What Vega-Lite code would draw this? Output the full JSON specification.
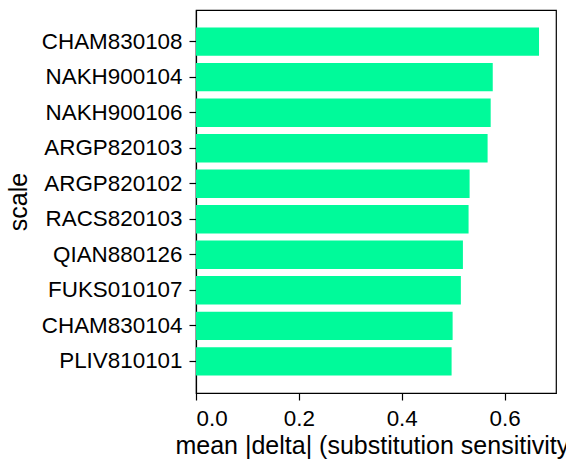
{
  "$schema": "https://vega.github.io/schema/vega-lite/v6.json",
  "width": 360,
  "height": 383,
  "autosize": "none",
  "padding": {"left": 196, "top": 10, "right": 10, "bottom": 73},
  "config": {
    "font": "Liberation Sans",
    "view": {"stroke": "black", "strokeWidth": 1.2},
    "axis": {
      "labelFontSize": 22.4,
      "titleFontSize": 25,
      "labelColor": "black",
      "titleColor": "black",
      "titleFontWeight": "normal",
      "tickColor": "black",
      "domainColor": "black",
      "tickSize": 7,
      "tickWidth": 1.2,
      "domainWidth": 1.2,
      "labelPadding": 7,
      "grid": false
    }
  },
  "data": {
    "values": [
      {"scale": "CHAM830108", "value": 0.667},
      {"scale": "NAKH900104", "value": 0.577},
      {"scale": "NAKH900106", "value": 0.573},
      {"scale": "ARGP820103", "value": 0.567},
      {"scale": "ARGP820102", "value": 0.532},
      {"scale": "RACS820103", "value": 0.530},
      {"scale": "QIAN880126", "value": 0.519},
      {"scale": "FUKS010107", "value": 0.515},
      {"scale": "CHAM830104", "value": 0.499},
      {"scale": "PLIV810101", "value": 0.497}
    ]
  },
  "mark": {"type": "bar", "color": "#00FA9A"},
  "encoding": {
    "y": {
      "field": "scale",
      "type": "nominal",
      "sort": "-x",
      "scale": {"paddingInner": 0.2, "paddingOuter": 0.49},
      "axis": {"title": "scale", "titlePadding": 10}
    },
    "x": {
      "field": "value",
      "type": "quantitative",
      "scale": {"domain": [0, 0.7], "nice": false},
      "axis": {
        "title": "mean |delta| (substitution sensitivity)",
        "values": [0, 0.2, 0.4, 0.6],
        "format": ".1f",
        "titlePadding": 4
      }
    }
  }
}
